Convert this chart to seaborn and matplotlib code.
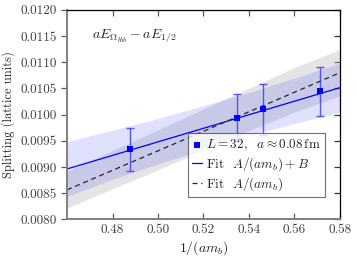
import numpy as np
import matplotlib
matplotlib.use("Agg")
import matplotlib.pyplot as plt
import seaborn as sns

# data points: 1/(am_b) vs splitting
inv_amb = [0.4875, 0.5346, 0.5461, 0.5714]
split = [0.009344, 0.009945, 0.010104, 0.010447]
split_err = [0.00041, 0.00045, 0.00049, 0.00047]

# fit lines (read at the x-range edges)
fit_x = [0.46, 0.58]
fit_ab = [0.008964, 0.010515]   # A/(am_b) + B
fit_a = [0.008565, 0.010800]    # A/(am_b)

# error bands
band_x = [0.46, 0.48, 0.50, 0.52, 0.54, 0.56, 0.58]
band_ab_lo = [0.008444, 0.008768, 0.009060, 0.009337, 0.009604, 0.009834, 0.010045]
band_ab_hi = [0.009484, 0.009708, 0.009926, 0.010173, 0.010424, 0.010696, 0.010985]
band_a_lo = [0.008215, 0.008588, 0.008948, 0.009322, 0.009696, 0.010052, 0.010360]
band_a_hi = [0.008915, 0.009316, 0.009712, 0.010108, 0.010504, 0.010900, 0.011240]

sns.set_style("ticks")
plt.rcParams["font.family"] = ["serif"]
plt.rcParams["font.serif"] = ["cmr10", "DejaVu Serif"]
plt.rcParams["mathtext.fontset"] = "cm"
plt.rcParams["axes.formatter.use_mathtext"] = True
plt.rcParams["axes.unicode_minus"] = False

fig = plt.figure(figsize=(3.57, 2.6), dpi=100)
ax = fig.add_axes([0.188, 0.156, 0.764, 0.806])

# bands
ax.fill_between(band_x, band_a_lo, band_a_hi, color="0.75", alpha=0.42, lw=0)
ax.fill_between(band_x, band_ab_lo, band_ab_hi, color="blue", alpha=0.12, lw=0)

# fit lines
sns.lineplot(x=fit_x, y=fit_ab, ax=ax, color="blue", lw=0.9,
             label=r"Fit  $A/(am_b)+B$", legend=False)
sns.lineplot(x=fit_x, y=fit_a, ax=ax, color="0.15", lw=0.9, ls=(0, (4, 3)),
             label=r"Fit  $A/(am_b)$", legend=False)

# data
ax.errorbar(inv_amb, split, yerr=split_err, fmt="none", ecolor=(0.2, 0.2, 1.0, 0.8),
            elinewidth=1.0, capsize=3, capthick=1.0, zorder=4)
sns.scatterplot(x=inv_amb, y=split, ax=ax, marker="s", s=18, color="blue",
                edgecolor="blue", linewidth=0, zorder=5,
                label=r"$L=32,\ \ a\approx 0.08\,\mathrm{fm}$", legend=False)

ax.set_xlim(0.46, 0.58)
ax.set_ylim(0.0080, 0.0120)
ax.set_xticks([0.48, 0.50, 0.52, 0.54, 0.56, 0.58])
ax.set_xticklabels(["0.48", "0.50", "0.52", "0.54", "0.56", "0.58"])
yt = [0.0080, 0.0085, 0.0090, 0.0095, 0.0100, 0.0105, 0.0110, 0.0115, 0.0120]
ax.set_yticks(yt)
ax.set_yticklabels([f"{v:.4f}" for v in yt])
ax.tick_params(axis="both", labelsize=9.5, width=0.9, length=4, colors="0.35",
               labelcolor="0.25")
ax.tick_params(axis="x", direction="in", top=True)
ax.tick_params(axis="y", direction="out", right=False)
for s in ["left", "bottom"]:
    ax.spines[s].set_color("0.5")
    ax.spines[s].set_linewidth(1.4)
for s in ["top", "right"]:
    ax.spines[s].set_visible(True)
    ax.spines[s].set_color("black")
    ax.spines[s].set_linewidth(0.9)
ax2 = ax.secondary_yaxis("right")
ax2.set_yticks(yt)
ax2.tick_params(direction="in", length=4, width=0.9, labelright=False, colors="0.2")
ax2.spines["right"].set_visible(False)

ax.set_xlabel(r"$1/(am_b)$", fontsize=10, labelpad=2)
ax.set_ylabel("Splitting (lattice units)", fontsize=9, labelpad=4)
ax.text(0.4708, 0.01149, r"$aE_{\Omega_{bbb}} - aE_{1/2}$", fontsize=10, va="center")

h, l = ax.get_legend_handles_labels()
order = [2, 0, 1]
leg = ax.legend([h[i] for i in order], [l[i] for i in order], loc="lower right",
                bbox_to_anchor=(0.945, 0.105), fontsize=9.5, frameon=True, fancybox=False,
                edgecolor="0.3", handlelength=0.8, handletextpad=0.3,
                borderpad=0.3, labelspacing=0.2, borderaxespad=0)
leg.get_frame().set_linewidth(0.8)

fig.savefig("out.png", dpi=100)
